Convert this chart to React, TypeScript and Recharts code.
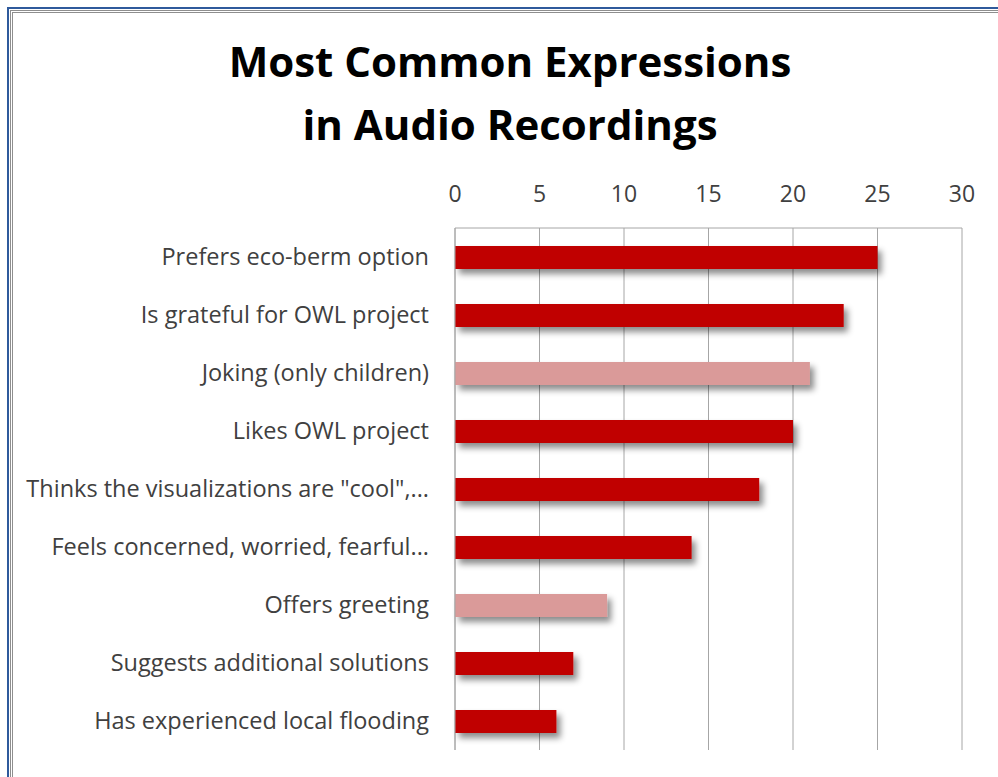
import React from "react";
import {
  BarChart,
  Bar,
  Cell,
  XAxis,
  YAxis,
  CartesianGrid,
} from "recharts";

const categories = [
  "Prefers eco-berm option",
  "Is grateful for OWL project",
  "Joking (only children)",
  "Likes OWL project",
  'Thinks the visualizations are "cool",...',
  "Feels concerned, worried, fearful...",
  "Offers greeting",
  "Suggests additional solutions",
  "Has experienced local flooding",
];
const counts = [25, 23, 21, 20, 18, 14, 9, 7, 6];
const highlighted = [false, false, true, false, false, false, true, false, false];
const xTicks = [0, 5, 10, 15, 20, 25, 30];

const DARK_RED = "#C00000";
const PINK = "#DA9A99";
const FONT = "'Open Sans', Lato, sans-serif";

const data = categories.map((name, i) => ({ name, value: counts[i] }));

const App = () => {
  return (
    <div
      style={{
        position: "absolute",
        left: 0,
        top: 0,
        width: 998,
        height: 777,
        background: "#fff",
        overflow: "hidden",
        fontFamily: FONT,
      }}
    >
      {/* shadow filter used by the bars */}
      <svg width={0} height={0} style={{ position: "absolute" }}>
        <defs>
          <filter id="barShadow" x="-10%" y="-30%" width="130%" height="190%">
            <feDropShadow dx={4} dy={5} stdDeviation={3} floodColor="#000" floodOpacity={0.45} />
          </filter>
        </defs>
      </svg>
      {/* frame */}
      <div
        style={{
          position: "absolute",
          left: 7,
          top: 7,
          width: 1200,
          height: 1200,
          borderLeft: "2px solid #2F5A9C",
          borderTop: "2px solid #2F5A9C",
        }}
      />
      <div
        style={{
          position: "absolute",
          left: 10,
          top: 10,
          width: 1200,
          height: 1200,
          borderLeft: "3px double #8E8E8E",
          borderTop: "3px double #8E8E8E",
        }}
      />
      <div
        style={{
          position: "absolute",
          left: 10,
          width: 1000,
          top: 29,
          textAlign: "center",
          fontWeight: 700,
          fontSize: 42,
          lineHeight: "63px",
          color: "#000",
        }}
      >
        Most Common Expressions
        <br />
        in Audio Recordings
      </div>
      <div style={{ position: "absolute", left: 0, top: 0 }}>
        <BarChart
          width={998}
          height={777}
          data={data}
          layout="vertical"
          margin={{ top: 178, right: 36, bottom: 27, left: 0 }}
          barSize={23}
        >
          <CartesianGrid horizontal={false} stroke="#A6A6A6" />
          <XAxis
            type="number"
            orientation="top"
            domain={[0, 30]}
            ticks={xTicks}
            height={50}
            axisLine={{ stroke: "#A6A6A6" }}
            tickLine={false}
            tickMargin={20}
            tick={{ fill: "#404040", fontSize: 23, fontFamily: FONT }}
          />
          <YAxis
            type="category"
            dataKey="name"
            width={455}
            axisLine={{ stroke: "#A6A6A6" }}
            tickLine={false}
            tickMargin={20}
            interval={0}
            tick={{ fill: "#404040", fontSize: 23.5, fontFamily: FONT }}
          />
          <Bar dataKey="value" isAnimationActive={false} style={{ filter: "url(#barShadow)" }}>
            {data.map((d, i) => (
              <Cell key={d.name} fill={highlighted[i] ? PINK : DARK_RED} />
            ))}
          </Bar>
        </BarChart>
      </div>
    </div>
  );
};

export default App;
